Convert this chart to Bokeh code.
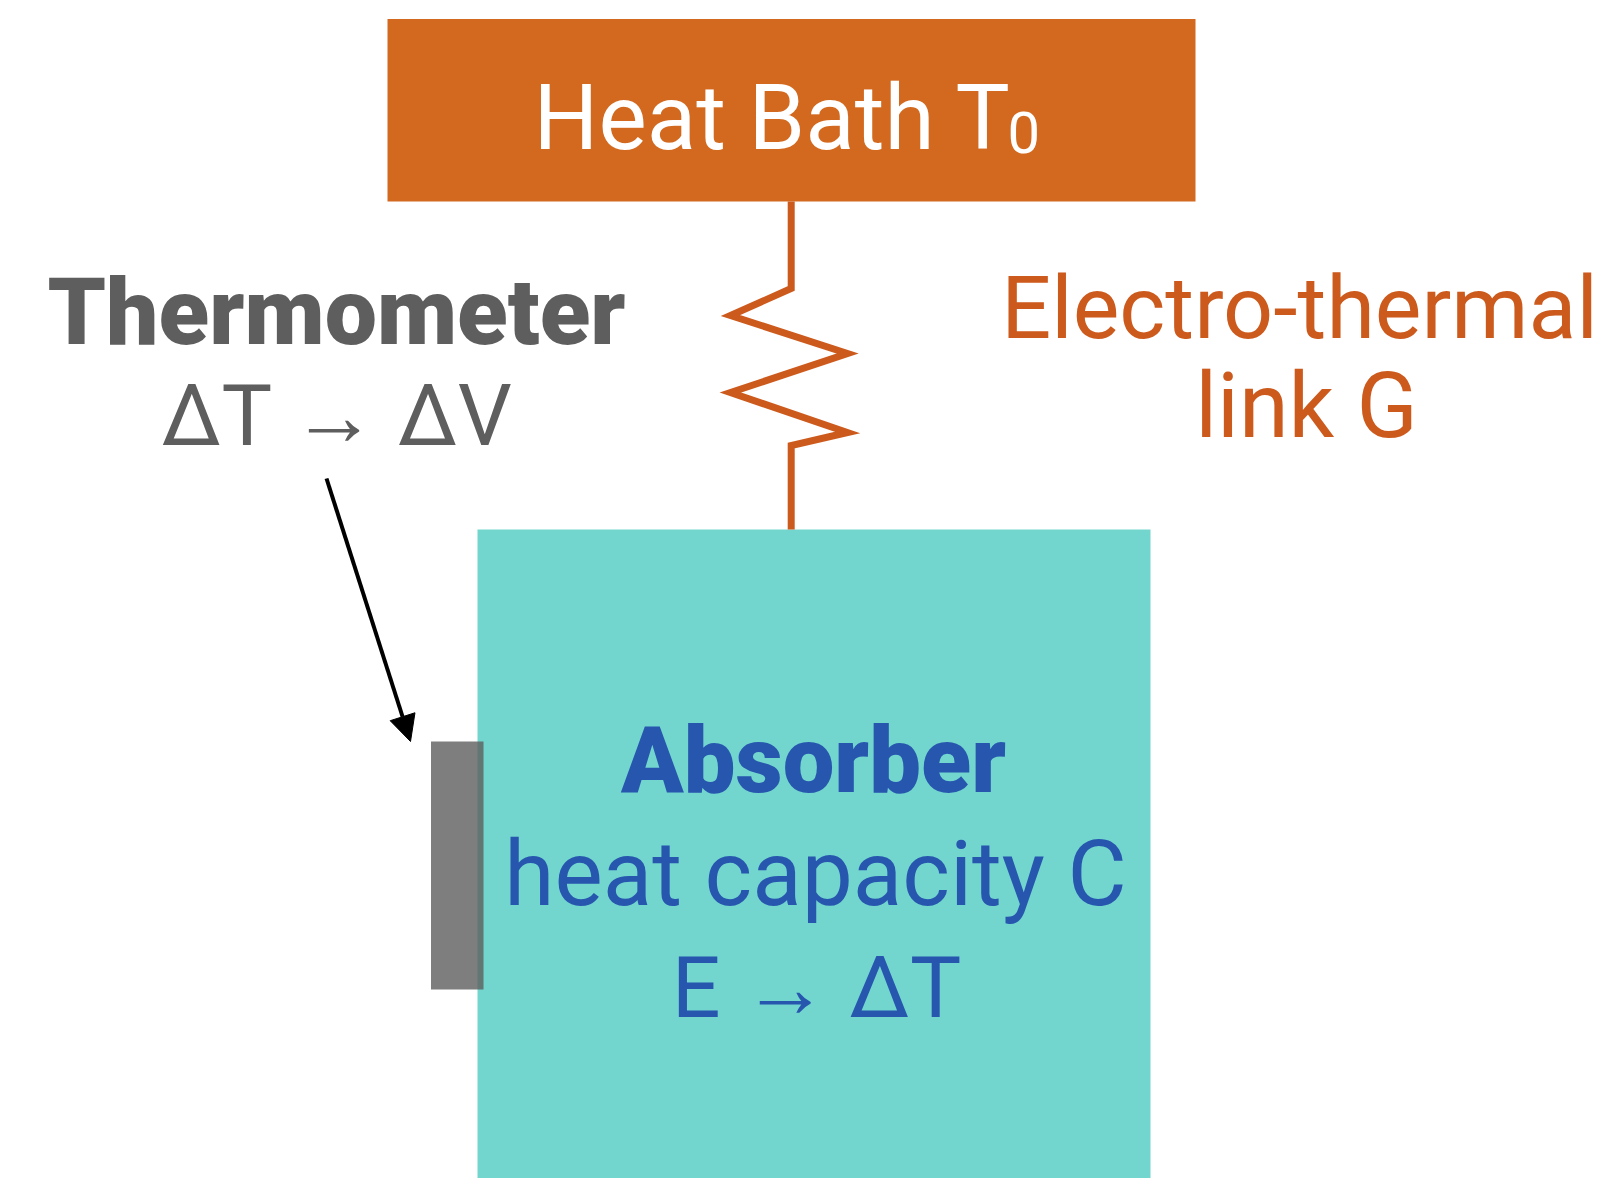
from bokeh.plotting import figure
from bokeh.models import Range1d, ColumnDataSource, Arrow, NormalHead
from bokeh.core.properties import value
from bokeh.embed import file_html
from bokeh.resources import INLINE

# --- diagram data (screen-pixel coordinates of the 1619x1194 page) ---
block_names = ["Heat Bath", "Absorber", "Thermometer"]
block_left = [387, 477, 430.5]
block_right = [1195, 1150, 483]
block_top = [18.6, 529, 741]
block_bottom = [201, 1194, 989]
block_colors = ["#D2691E", "#72D6CE", "#5E5E5E"]
block_alpha = [1.0, 1.0, 0.8]

link_x = [790.7, 790.7, 730, 847, 730, 847, 790.7, 790.7]
link_y = [201, 288, 315, 353, 392, 432, 445, 529]

arrow_start = (326, 478)
arrow_end = (410, 741)

labels = ["Heat Bath T", "Thermometer", "ΔT → ΔV", "Electro-thermal", "link G",
          "Absorber", "heat capacity C", "E → ΔT"]
label_x = [772, 336, 337, 1299, 1306, 813, 815, 816]
label_baseline = [148, 344, 444, 337, 437, 791, 904, 1016]
label_size = [91, 93, 85, 88, 90, 92, 91, 86]
label_font = ["Roboto", "Roboto Black, Roboto", "Roboto", "Roboto", "Roboto",
              "Roboto Black, Roboto", "Roboto", "Roboto"]
label_style = ["normal", "bold", "normal", "normal", "normal", "bold", "normal", "normal"]
label_color = ["#FFFFFF", "#5E5E5E", "#5E5E5E", "#CD5A1D", "#CD5A1D", "#2756AF", "#2756AF", "#2756AF"]

sub_text = ["0"]
sub_x = [1007]
sub_baseline = [152]
sub_size = 58

W, H = 1603, 1178
p = figure(width=W, height=H, x_range=Range1d(0, W), y_range=Range1d(H, 0),
           output_backend="svg", toolbar_location=None, x_axis_type=None, y_axis_type=None,
           min_border=0)
p.grid.visible = False
p.outline_line_color = None
p.background_fill_color = "white"
p.border_fill_color = "white"

blocks = ColumnDataSource(dict(name=block_names, left=block_left, right=block_right,
                               top=block_top, bottom=block_bottom, color=block_colors,
                               alpha=block_alpha))
p.quad(left="left", right="right", top="top", bottom="bottom", fill_color="color",
       fill_alpha="alpha", line_color=None, source=blocks)

p.line(link_x, link_y, line_color="#CD5A1D", line_width=7, line_join="miter")

arr = Arrow(end=NormalHead(size=26, fill_color="black", line_color="black"),
            x_start=arrow_start[0], y_start=arrow_start[1],
            x_end=arrow_end[0], y_end=arrow_end[1],
            line_width=4, line_color="black")
p.add_layout(arr)

MID = 0.34  # renderer places text by its middle; shift from baseline
for t, x, b, s, f, st, c in zip(labels, label_x, label_baseline, label_size, label_font,
                                label_style, label_color):
    p.text(x=[x], y=[b - MID * s], text=[t], text_font=value(f),
           text_font_size=value(f"{s}px"), text_font_style=st, text_color=c,
           text_align="center", text_baseline="middle")

p.text(x=sub_x, y=[sb - MID * sub_size for sb in sub_baseline], text=sub_text,
       text_font=value("Roboto"), text_font_size=value(f"{sub_size}px"),
       text_color="#FFFFFF", text_align="left", text_baseline="middle")

open("out.html", "w").write(file_html(p, INLINE))
